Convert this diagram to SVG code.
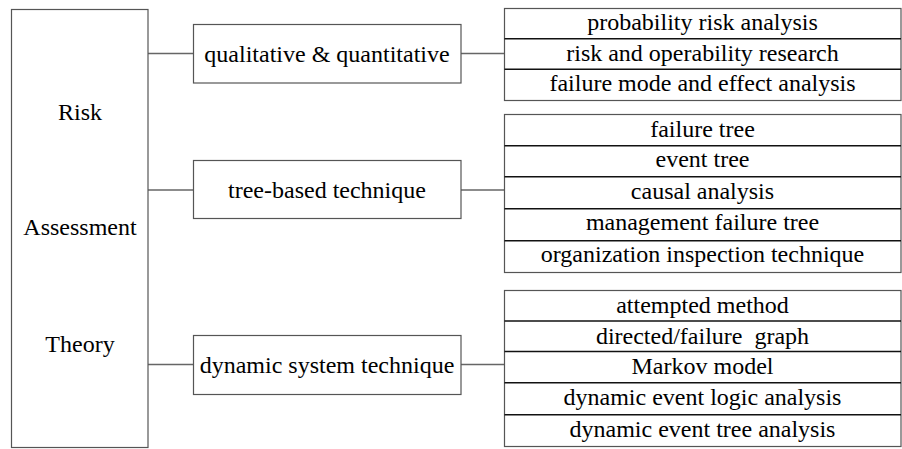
<svg xmlns="http://www.w3.org/2000/svg" width="902" height="449" viewBox="0 0 902 449">
<style>
text{font-family:"Liberation Serif","Times New Roman",serif;font-size:24px;fill:#000;text-anchor:middle;white-space:pre}
.box{fill:#fff;stroke:#555;stroke-width:1.2}
.sep{stroke:#111;stroke-width:1.6}
.conn{stroke:#666;stroke-width:1.4;fill:none}
</style>
<rect width="902" height="449" fill="#fff"/>
<g id="connectors">
<line class="conn" x1="148" y1="53.5" x2="193" y2="53.5"/>
<line class="conn" x1="148" y1="190" x2="193" y2="190"/>
<line class="conn" x1="148" y1="364.5" x2="193" y2="364.5"/>
<line class="conn" x1="461" y1="53.5" x2="504" y2="53.5"/>
<line class="conn" x1="461" y1="190" x2="504" y2="190"/>
<line class="conn" x1="461" y1="364.5" x2="504" y2="364.5"/>
</g>
<g id="root">
<rect class="box" x="11.5" y="9.5" width="136.5" height="438"/>
<text x="80" y="120">Risk</text>
<text x="80" y="235">Assessment</text>
<text x="80" y="352">Theory</text>
</g>
<g id="qualitative">
<rect class="box" x="193.5" y="24.5" width="267.5" height="58.5"/>
<text x="327" y="62">qualitative &amp; quantitative</text>
</g>
<g id="tree-based">
<rect class="box" x="193.5" y="160.5" width="267.5" height="58"/>
<text x="327" y="198">tree-based technique</text>
</g>
<g id="dynamic">
<rect class="box" x="193.5" y="335.5" width="267.5" height="59"/>
<text x="327" y="373">dynamic system technique</text>
</g>
<g id="list1">
<rect class="box" x="504.5" y="8.5" width="396.5" height="92"/>
<line class="sep" x1="504.5" y1="38.7" x2="901" y2="38.7"/>
<line class="sep" x1="504.5" y1="69.3" x2="901" y2="69.3"/>
<text x="702.5" y="30">probability risk analysis</text>
<text x="702.5" y="60.5">risk and operability research</text>
<text x="702.5" y="91">failure mode and effect analysis</text>
</g>
<g id="list2">
<rect class="box" x="504.5" y="114.5" width="396.5" height="158"/>
<line class="sep" x1="504.5" y1="145.7" x2="901" y2="145.7"/>
<line class="sep" x1="504.5" y1="176.7" x2="901" y2="176.7"/>
<line class="sep" x1="504.5" y1="208.7" x2="901" y2="208.7"/>
<line class="sep" x1="504.5" y1="240.7" x2="901" y2="240.7"/>
<text x="702.5" y="137">failure tree</text>
<text x="702.5" y="167">event tree</text>
<text x="702.5" y="198.5">causal analysis</text>
<text x="702.5" y="229.5">management failure tree</text>
<text x="702.5" y="262">organization inspection technique</text>
</g>
<g id="list3">
<rect class="box" x="504.5" y="290.5" width="396.5" height="156"/>
<line class="sep" x1="504.5" y1="321" x2="901" y2="321"/>
<line class="sep" x1="504.5" y1="351.5" x2="901" y2="351.5"/>
<line class="sep" x1="504.5" y1="382.7" x2="901" y2="382.7"/>
<line class="sep" x1="504.5" y1="414.7" x2="901" y2="414.7"/>
<text x="702.5" y="313">attempted method</text>
<text x="702.5" y="343.5">directed/failure  graph</text>
<text x="702.5" y="373.5">Markov model</text>
<text x="702.5" y="405">dynamic event logic analysis</text>
<text x="702.5" y="437">dynamic event tree analysis</text>
</g>
</svg>
